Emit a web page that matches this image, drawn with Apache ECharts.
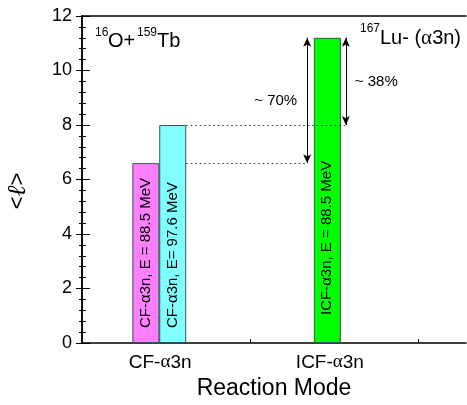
<!DOCTYPE html>
<html>
<head>
<meta charset="utf-8">
<script src="https://cdn.jsdelivr.net/npm/echarts@6/dist/echarts.min.js"></script>
<style>
  html, body { margin: 0; padding: 0; background: #fff; }
  #chart { width: 467px; height: 405px; }
</style>
</head>
<body>
<div id="chart"></div>
<script>
// Reaction modes on the horizontal axis and where their names sit
const modes = ['CF-\u03b13n', 'ICF-\u03b13n'];
const modePos = [0.93, 2.95];

// Mean angular momentum <l> for each reaction channel
const barNames = ['CF-\u03b13n, E = 88.5 MeV', 'CF-\u03b13n, E= 97.6 MeV', 'ICF-\u03b13n, E = 88.5 MeV'];
const barPos = [0.76, 1.08, 2.92];
const barValues = [6.6, 8.0, 11.2];
const barColors = ['#ff80ff', '#80ffff', '#00ff00'];
const barLabelLift = [15, 15, 28];

// Relative differences quoted between the channels
const diffText = ['~ 70%', '~ 38%'];
const diffPos = [2.68, 3.14];

const yTicks = { min: 0, max: 12, interval: 2 };

const FONT = 'Liberation Sans, Arial, DejaVu Sans, sans-serif';
const SERIF = 'Liberation Serif, DejaVu Serif, serif';
const chart = echarts.init(document.getElementById('chart'), null, { renderer: 'canvas' });

const cfTop = barValues[0], cfHigh = barValues[1], icfTop = barValues[2];
const barHalf = 13.5 / 84; // half bar width in axis units

// one piece of a nuclide label: small raised mass number or normal-size symbol
function piece(text, x, y, size, family) {
  return {
    type: 'text', x: x, y: y, z: 10,
    style: { text: text, fontSize: size, fontFamily: family || FONT, fill: '#000', verticalAlign: 'middle', align: 'left' }
  };
}

const option = {
  animation: false,
  backgroundColor: '#fff',
  textStyle: { fontFamily: FONT },
  grid: { left: 82, top: 16, right: 1, bottom: 62 },
  xAxis: [{
    type: 'value', min: 0, max: 4.57, interval: 1,
    name: 'Reaction Mode', nameLocation: 'middle', nameGap: 34,
    nameTextStyle: { fontSize: 23, color: '#000', fontFamily: FONT },
    axisLine: { lineStyle: { color: '#000', width: 1.5 } },
    axisTick: { inside: true, length: 4, customValues: [1, 2, 3, 4], lineStyle: { color: '#000' } },
    axisLabel: {
      customValues: modePos, margin: 10, fontSize: 19, color: '#000', fontFamily: FONT,
      formatter: v => {
        const t = modes[modePos.indexOf(v)] || '';
        return t.replace('\u03b1', '{g|\u03b1}');
      },
      rich: { g: { fontSize: 19, fontFamily: SERIF, color: '#000' } }
    },
    splitLine: { show: false }
  }, {
    type: 'value', position: 'top', min: 0, max: 4.57,
    axisLine: { show: true, onZero: false, lineStyle: { color: '#000', width: 1.5 } },
    axisTick: { show: false }, axisLabel: { show: false }, splitLine: { show: false }
  }],
  yAxis: [{
    type: 'value', min: yTicks.min, max: yTicks.max, interval: yTicks.interval,
    axisLine: { show: true, lineStyle: { color: '#000', width: 1.5 } },
    axisTick: { inside: true, length: 8, lineStyle: { color: '#000' } },
    minorTick: { show: true, splitNumber: 5, length: 4, lineStyle: { color: '#000' } },
    axisLabel: { fontSize: 18, color: '#000', margin: 10, fontFamily: FONT },
    splitLine: { show: false }
  }, {
    type: 'value', position: 'right', min: yTicks.min, max: yTicks.max, interval: yTicks.interval,
    axisLine: { show: true, lineStyle: { color: '#000', width: 1.5 } },
    axisTick: { inside: true, length: 6, lineStyle: { color: '#000' } },
    minorTick: { show: true, splitNumber: 5, length: 3, lineStyle: { color: '#000' } },
    axisLabel: { show: false }, splitLine: { show: false }
  }],
  series: [{
    type: 'bar',
    barWidth: 27,
    z: 2,
    data: barValues.map((v, i) => ({
      value: [barPos[i], v],
      itemStyle: { color: barColors[i], borderColor: '#2f5555', borderWidth: 1 },
      label: {
        show: true, formatter: barNames[i], position: 'insideBottom', rotate: 90,
        align: 'left', verticalAlign: 'middle', distance: barLabelLift[i],
        fontSize: 15, color: '#000', fontFamily: FONT
      }
    })),
    markLine: {
      silent: true, symbol: ['arrow', 'arrow'], symbolSize: [6, 9],
      label: { show: false },
      lineStyle: { color: '#000', width: 1, type: 'solid' },
      data: [
        [{ coord: [diffPos[0], icfTop] }, { coord: [diffPos[0], cfTop] }],
        [{ coord: [diffPos[1], icfTop] }, { coord: [diffPos[1], cfHigh] }]
      ]
    }
  }, {
    type: 'scatter',
    symbolSize: 0,
    z: 5,
    itemStyle: { opacity: 1 },
    data: [
      { value: [diffPos[0], (icfTop + cfTop) / 2], label: { show: true, position: 'left', distance: 10, formatter: diffText[0] } },
      { value: [diffPos[1], (icfTop + cfHigh) / 2], label: { show: true, position: 'right', distance: 9, formatter: diffText[1] } }
    ],
    label: { fontSize: 15, color: '#000', opacity: 1, fontFamily: FONT },
    markLine: {
      silent: true, symbol: ['none', 'none'],
      label: { show: false },
      lineStyle: { color: '#333', width: 1, opacity: 1, type: [1.5, 3] },
      data: [
        [{ coord: [barPos[1] + barHalf, cfHigh] }, { coord: [diffPos[1], cfHigh] }],
        [{ coord: [barPos[1] + barHalf, cfTop] }, { coord: [diffPos[0], cfTop] }]
      ]
    }
  }],
  graphic: [
    // 16O + 159Tb
    piece('16', 95, 33, 12),
    piece('O+', 108, 41, 20),
    piece('159', 137, 33, 12),
    piece('Tb', 157, 41, 20),
    // 167Lu- (a3n)
    piece('167', 360, 29, 12),
    {
      type: 'text', x: 380, y: 38, z: 10,
      style: {
        text: '{m|Lu- (}{g|\u03b1}{m|3n)}', verticalAlign: 'middle', align: 'left',
        rich: {
          m: { fontSize: 20, fontFamily: FONT, fill: '#000' },
          g: { fontSize: 21, fontFamily: SERIF, fill: '#000' }
        }
      }
    },
    // y-axis title <l>
    {
      type: 'text', x: 18, y: 191, rotation: Math.PI / 2, z: 10,
      style: {
        text: '{a|<}{l|\u2113}{a|>}', align: 'center', verticalAlign: 'middle',
        rich: {
          a: { fontSize: 22, fontFamily: FONT, fill: '#000' },
          l: { fontSize: 26, fontFamily: 'DejaVu Serif, serif', fontStyle: 'italic', fill: '#000' }
        }
      }
    }
  ]
};

chart.setOption(option);
</script>
</body>
</html>
